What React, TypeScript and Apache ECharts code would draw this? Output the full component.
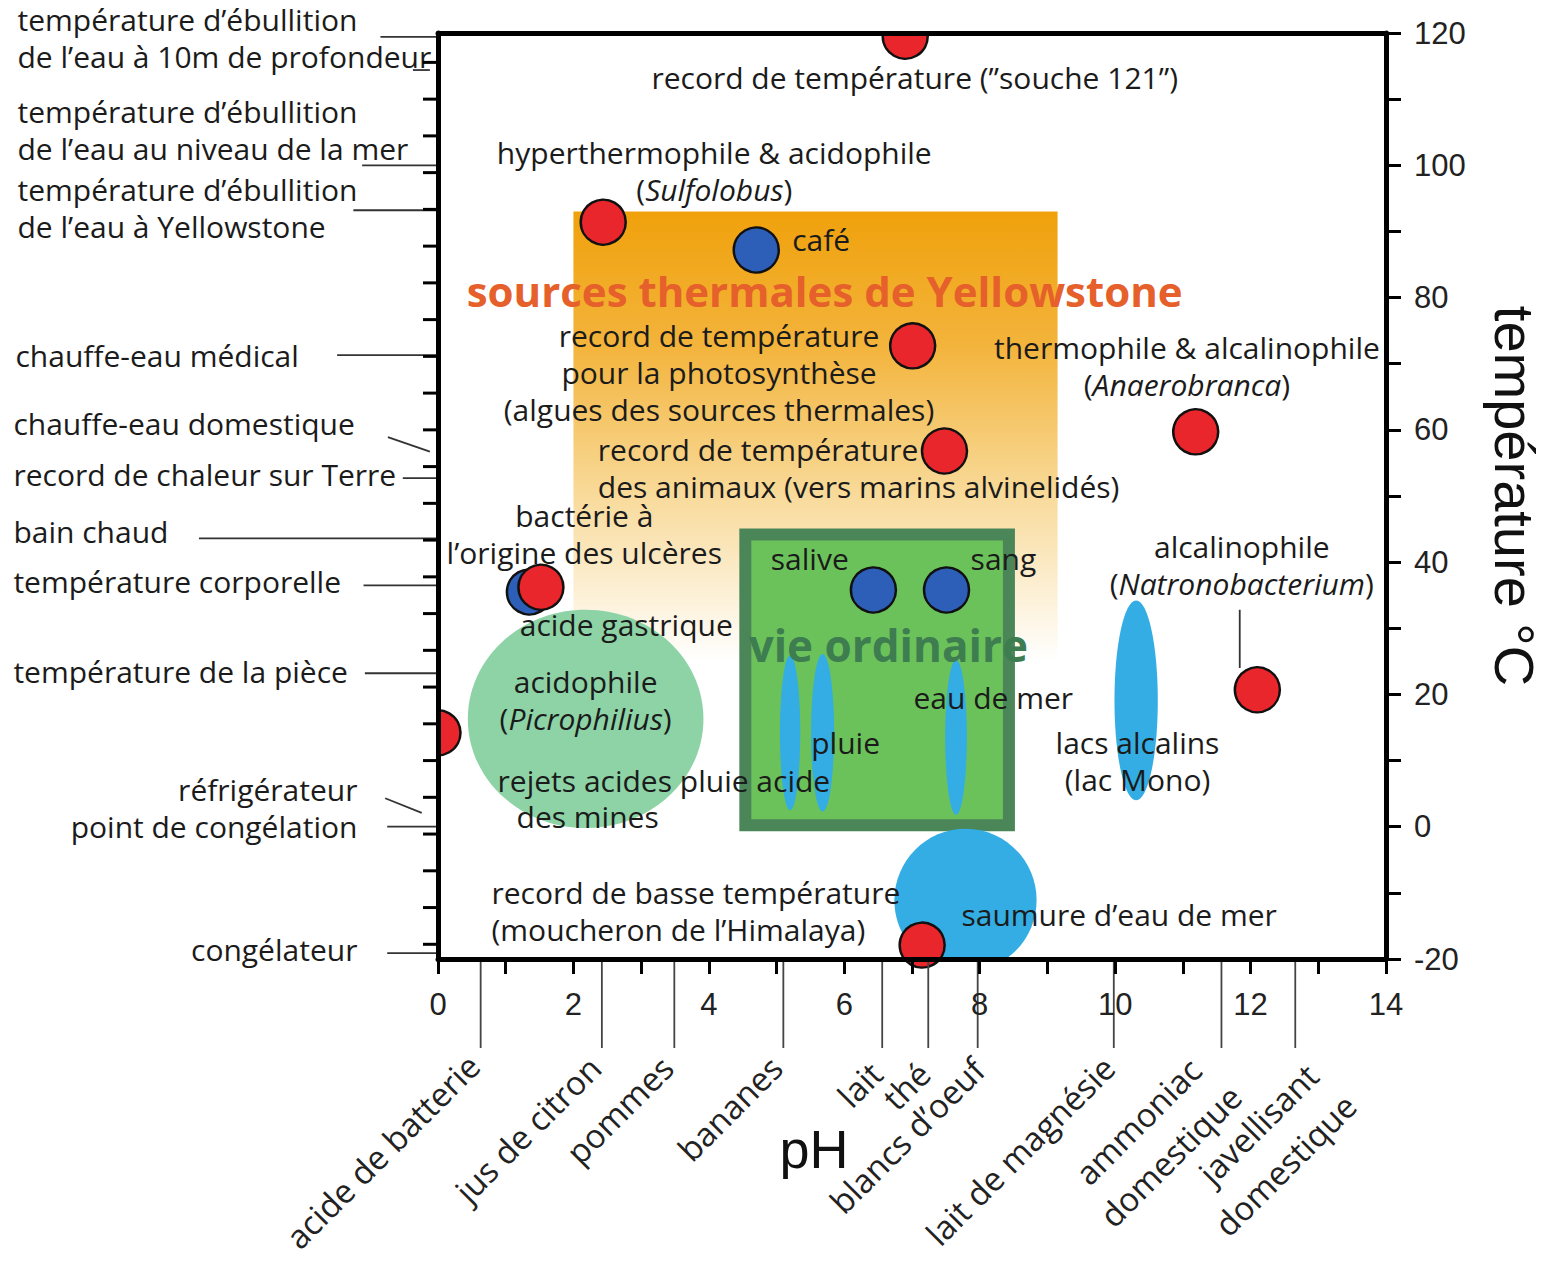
import { useEffect, useRef } from "react";
import * as echarts from "echarts";

const TEXT_FONT = "'Open Sans', 'DejaVu Sans', sans-serif";
const AXIS_FONT = "'Liberation Sans', Arial, sans-serif";
const TEXT_COLOR = "#1b1b1b";

// ---------- axes ----------
const phMin = 0;
const phMax = 14;
const tempMin = -20;
const tempMax = 120;
const xTickLabels = [0, 2, 4, 6, 8, 10, 12, 14];
const yTickLabels = [-20, 0, 20, 40, 60, 80, 100, 120];
const fahrenheitTicks = [0, 10, 20, 30, 40, 50, 60, 70, 80, 90, 100, 110, 120, 130, 140, 150, 160, 170, 180, 190, 200, 210, 220, 230, 240];

// ---------- everyday substances on the pH scale ----------
const substanceNames = [
  "acide de batterie",
  "jus de citron",
  "pommes",
  "bananes",
  "lait",
  "thé",
  "blancs d’oeuf",
  "lait de magnésie",
  "ammoniac\ndomestique",
  "javellisant\ndomestique",
];
const substancePH = [0.63, 2.42, 3.49, 5.1, 6.56, 7.24, 7.97, 9.98, 11.57, 12.66];

// ---------- reference temperatures (left margin) ----------
const leftTexts = [
  "température d’ébullition\nde l’eau à 10m de profondeur",
  "température d’ébullition\nde l’eau au niveau de la mer",
  "température d’ébullition\nde l’eau à Yellowstone",
  "chauffe-eau médical",
  "chauffe-eau domestique",
  "record de chaleur sur Terre",
  "bain chaud",
  "température corporelle",
  "température de la pièce",
  "réfrigérateur\npoint de congélation",
  "congélateur",
];
const leftTextPH = [-6.21, -6.21, -6.21, -6.24, -6.27, -6.27, -6.27, -6.27, -6.27, -1.19, -1.19];
const leftTextTemp = [119.2, 105.3, 93.6, 71.3, 60.9, 53.2, 44.6, 37.0, 23.5, 2.8, -18.6];
const leftTextAlign = ["left", "left", "left", "left", "left", "left", "left", "left", "left", "right", "right"];
// leader lines: [pH start, °C start, pH end, °C end]
const leaderLines = [
  [-0.85, 119.4, 0, 119.4],
  [-0.37, 114.4, -0.12, 114.4],
  [-1.12, 100, 0, 100],
  [-1.25, 93.2, 0, 93.2],
  [-1.49, 71.3, 0, 71.3],
  [-0.74, 58.9, -0.12, 56.7],
  [-0.52, 52.7, 0, 52.7],
  [-3.53, 43.6, 0, 43.6],
  [-1.1, 36.5, 0, 36.5],
  [-1.08, 23.2, 0, 23.2],
  [-0.78, 4.3, -0.24, 2.1],
  [-0.75, 0, 0, 0],
  [-0.75, -19.1, 0, -19.1],
  [11.84, 32.8, 11.84, 24.0],
];

// ---------- organisms (red) ----------
const redNames = [
  "souche 121",
  "Sulfolobus",
  "photosynthèse",
  "vers marins alvinelidés",
  "Anaerobranca",
  "bactérie des ulcères",
  "Natronobacterium",
  "Picrophilius",
  "moucheron de l’Himalaya",
];
const redPH = [6.9, 2.44, 7.01, 7.48, 11.19, 1.52, 12.1, 0.0, 7.15];
const redTemp = [119.5, 91.4, 72.7, 56.8, 59.7, 36.2, 20.7, 14.2, -17.9];
const redAtFrame = [true, false, false, false, false, false, false, true, false];

// ---------- fluids (blue) ----------
const blueNames = ["café", "salive", "sang", "acide gastrique"];
const bluePH = [4.7, 6.43, 7.51, 1.35];
const blueTemp = [87.2, 35.8, 35.8, 35.5];

// ---------- zones ----------
const hotSpringZone = [2.0, 9.15, 25, 93]; // pH min, pH max, °C min, °C max
const ordinaryLifeZone = [4.45, 8.52, -0.7, 45.1];
const acidophileZone = [2.18, 16.3, 1.74, 16.5]; // centre pH, centre °C, half pH, half °C
const waterNames = ["pluie acide", "pluie", "eau de mer", "lacs alcalins", "saumure d’eau de mer"];
const waterPH = [5.2, 5.68, 7.65, 10.31, 7.79];
const waterTemp = [14.2, 14.2, 13.5, 19.1, -11.1];
const waterHalfPH = [0.15, 0.17, 0.16, 0.32, 1.05];
const waterHalfTemp = [11.7, 11.9, 11.7, 15.1, 10.8];

// ---------- annotations in the plot ----------
const noteTexts = [
  "record de température (”souche 121”)",
  "hyperthermophile & acidophile\n({i|Sulfolobus})",
  "café",
  "record de température\npour la photosynthèse\n(algues des sources thermales)",
  "thermophile & alcalinophile\n({i|Anaerobranca})",
  "record de température\ndes animaux (vers marins alvinelidés)",
  "bactérie à\nl’origine des ulcères",
  "salive",
  "sang",
  "alcalinophile\n({i|Natronobacterium})",
  "acide gastrique",
  "acidophile\n({i|Picrophilius})",
  "eau de mer",
  "pluie",
  "lacs alcalins\n(lac Mono)",
  "rejets acides pluie acide",
  "des mines",
  "record de basse température\n(moucheron de l’Himalaya)",
  "saumure d’eau de mer",
];
const notePH = [7.04, 4.08, 5.23, 4.15, 11.06, 2.36, 2.16, 5.49, 8.35, 11.87, 2.78, 2.18, 8.2, 6.02, 10.33, 0.88, 2.21, 0.79, 7.73];
const noteTemp = [113.2, 99.1, 88.8, 68.7, 69.7, 54.3, 44.3, 40.5, 40.5, 39.6, 30.5, 19.2, 19.5, 12.8, 10.0, 7.06, 1.47, -12.8, -13.2];
const noteAlign = ["center", "center", "left", "center", "center", "left", "center", "center", "center", "center", "center", "center", "center", "center", "center", "left", "center", "left", "left"];

const titleTexts = ["sources thermales de Yellowstone", "vie ordinaire"];
const titlePH = [5.71, 6.65];
const titleTemp = [81.0, 27.5];

// ---------- layout constants (pixels) ----------
const SUB_LEADER_LEN = 89;
const substanceLabelOffsets = [
  [[-7, 12]],
  [[-7, 14]],
  [[-7, 14]],
  [[-7, 14]],
  [[-6, 20]],
  [[-4, 20]],
  [[1, 16]],
  [[-5, 14]],
  [[-26, 16], [14, 43]],
  [[17, 22], [55, 52]],
];

function textStyle(text: string, align: string, size = 30) {
  return {
    text,
    align,
    verticalAlign: "middle",
    fill: TEXT_COLOR,
    fontFamily: TEXT_FONT,
    fontSize: size,
    lineHeight: 37,
    rich: {
      i: { fontStyle: "italic", fontFamily: TEXT_FONT, fontSize: size, lineHeight: 37, fill: TEXT_COLOR },
    },
  };
}

function buildOption(): any {
  return {
    animation: false,
    backgroundColor: "#ffffff",
    grid: { left: 438, right: 161, top: 33, bottom: 303, show: false },
    xAxis: [
      {
        type: "value",
        min: phMin,
        max: phMax,
        interval: 1,
        position: "bottom",
        z: 10,
        axisLine: { show: true, onZero: false, lineStyle: { color: "#000", width: 5 } },
        axisTick: { show: true, length: 15, lineStyle: { color: "#000", width: 3 } },
        axisLabel: {
          formatter: (v: number) => (xTickLabels.includes(v) ? String(v) : ""),
          fontSize: 31,
          fontFamily: AXIS_FONT,
          color: "#222",
          margin: 30,
        },
        splitLine: { show: false },
        name: "pH",
        nameLocation: "middle",
        nameGap: 163,
        nameTextStyle: { fontSize: 54, fontFamily: AXIS_FONT, color: "#111", padding: [0, 196, 0, 0] },
      },
      {
        type: "value",
        min: phMin,
        max: phMax,
        position: "top",
        z: 10,
        axisLine: { show: true, onZero: false, lineStyle: { color: "#000", width: 5 } },
        axisTick: { show: false },
        axisLabel: { show: false },
        splitLine: { show: false },
      },
    ],
    yAxis: [
      {
        type: "value",
        min: tempMin,
        max: tempMax,
        interval: 10,
        position: "right",
        z: 10,
        axisLine: { show: true, onZero: false, lineStyle: { color: "#000", width: 5 } },
        axisTick: { show: true, length: 15, lineStyle: { color: "#000", width: 3 } },
        axisLabel: {
          formatter: (v: number) => (yTickLabels.includes(v) ? String(v) : ""),
          fontSize: 31,
          fontFamily: AXIS_FONT,
          color: "#222",
          margin: 28,
        },
        splitLine: { show: false },
        name: "température °C",
        nameLocation: "middle",
        nameRotate: -90,
        nameGap: 100,
        nameTextStyle: { fontSize: 56, fontFamily: AXIS_FONT, color: "#111" },
      },
      {
        type: "value",
        min: tempMin,
        max: tempMax,
        position: "left",
        z: 10,
        axisLine: { show: true, onZero: false, lineStyle: { color: "#000", width: 5 } },
        axisTick: { show: false },
        axisLabel: { show: false },
        splitLine: { show: false },
      },
    ],
    series: [
      // hot springs gradient
      {
        type: "custom",
        name: "sources thermales de Yellowstone",
        clip: true,
        z: 1,
        silent: true,
        data: [hotSpringZone],
        renderItem: (_p: any, api: any) => {
          const a = api.coord([api.value(0), api.value(3)]);
          const b = api.coord([api.value(1), api.value(2)]);
          return {
            type: "rect",
            shape: { x: a[0], y: a[1], width: b[0] - a[0], height: b[1] - a[1] },
            style: {
              fill: new echarts.graphic.LinearGradient(0, 0, 0, 1, [
                { offset: 0, color: "#f0a10c" },
                { offset: 0.3, color: "#f3b43c" },
                { offset: 0.62, color: "#f8d997" },
                { offset: 1, color: "#ffffff" },
              ]),
            },
          };
        },
      },
      // ordinary life box
      {
        type: "custom",
        name: "vie ordinaire",
        clip: true,
        z: 2,
        silent: true,
        data: [ordinaryLifeZone],
        renderItem: (_p: any, api: any) => {
          const a = api.coord([api.value(0), api.value(3)]);
          const b = api.coord([api.value(1), api.value(2)]);
          const w = 12;
          return {
            type: "rect",
            shape: { x: a[0] + w / 2, y: a[1] + w / 2, width: b[0] - a[0] - w, height: b[1] - a[1] - w },
            style: { fill: "#6cc25a", stroke: "#4b8658", lineWidth: w },
          };
        },
      },
      // acidophile zone
      {
        type: "custom",
        name: "acidophile",
        clip: true,
        z: 3,
        silent: true,
        data: [acidophileZone],
        renderItem: (_p: any, api: any) => {
          const c = api.coord([api.value(0), api.value(1)]);
          const e = api.coord([api.value(0) + api.value(2), api.value(1) + api.value(3)]);
          return {
            type: "ellipse",
            shape: { cx: c[0], cy: c[1], rx: e[0] - c[0], ry: c[1] - e[1] },
            style: { fill: "#8dd3a6" },
          };
        },
      },
      // water bodies
      {
        type: "custom",
        name: "eaux",
        clip: true,
        z: 4,
        silent: true,
        data: waterPH.map((p, i) => ({ name: waterNames[i], value: [p, waterTemp[i], waterHalfPH[i], waterHalfTemp[i]] })),
        renderItem: (_p: any, api: any) => {
          const c = api.coord([api.value(0), api.value(1)]);
          const e = api.coord([api.value(0) + api.value(2), api.value(1) + api.value(3)]);
          return {
            type: "ellipse",
            shape: { cx: c[0], cy: c[1], rx: e[0] - c[0], ry: c[1] - e[1] },
            style: { fill: "#33ade4" },
          };
        },
      },
      // blue fluids
      {
        type: "scatter",
        name: "fluides",
        z: 5,
        silent: true,
        symbol: "circle",
        symbolSize: 45,
        itemStyle: { color: "#2d5fb8", borderColor: "#111", borderWidth: 2.5, opacity: 1 },
        data: bluePH.map((p, i) => ({ name: blueNames[i], value: [p, blueTemp[i]] })),
      },
      // red organisms
      {
        type: "scatter",
        name: "organismes",
        z: 6,
        silent: true,
        symbol: "circle",
        symbolSize: 45,
        itemStyle: { color: "#e8262b", borderColor: "#111", borderWidth: 2.5, opacity: 1 },
        data: redPH
          .map((p, i) => ({ name: redNames[i], value: [p, redTemp[i]] }))
          .filter((_d, i) => !redAtFrame[i]),
      },
      // red organisms touching the frame (clipped)
      {
        type: "custom",
        name: "organismes (bord)",
        clip: true,
        z: 6,
        silent: true,
        data: redPH
          .map((p, i) => ({ name: redNames[i], value: [p, redTemp[i]] }))
          .filter((_d, i) => redAtFrame[i]),
        renderItem: (_p: any, api: any) => {
          const c = api.coord([api.value(0), api.value(1)]);
          return {
            type: "circle",
            shape: { cx: c[0], cy: c[1], r: 22.5 },
            style: { fill: "#e8262b", stroke: "#111", lineWidth: 2.5 },
          };
        },
      },
      // leader lines
      {
        type: "custom",
        name: "repères",
        clip: false,
        z: 7,
        silent: true,
        data: leaderLines,
        renderItem: (_p: any, api: any) => {
          const a = api.coord([api.value(0), api.value(1)]);
          const b = api.coord([api.value(2), api.value(3)]);
          return {
            type: "line",
            shape: { x1: a[0], y1: a[1], x2: b[0], y2: b[1] },
            style: { stroke: "#333", lineWidth: 1.8 },
          };
        },
      },
      // left Fahrenheit ticks
      {
        type: "custom",
        name: "°F",
        clip: false,
        z: 10,
        silent: true,
        data: fahrenheitTicks.map((f) => [phMin, ((f - 32) * 5) / 9]).filter((d) => d[1] <= tempMax),
        renderItem: (_p: any, api: any) => {
          const p = api.coord([api.value(0), api.value(1)]);
          return {
            type: "line",
            shape: { x1: p[0] - 15, y1: p[1], x2: p[0], y2: p[1] },
            style: { stroke: "#000", lineWidth: 3 },
          };
        },
      },
      // substances below the pH axis
      {
        type: "custom",
        name: "substances",
        clip: false,
        z: 7,
        silent: true,
        data: substancePH.map((p, i) => ({ name: substanceNames[i], value: [p, tempMin] })),
        renderItem: (params: any, api: any) => {
          const i = params.dataIndex;
          const p = api.coord([api.value(0), api.value(1)]);
          const footY = p[1] + SUB_LEADER_LEN;
          const children: any[] = [
            {
              type: "line",
              shape: { x1: p[0], y1: p[1], x2: p[0], y2: footY },
              style: { stroke: "#444", lineWidth: 1.8 },
            },
          ];
          substanceNames[i].split("\n").forEach((line, k) => {
            const off = substanceLabelOffsets[i][k];
            children.push({
              type: "text",
              x: p[0] + off[0],
              y: footY + off[1],
              rotation: Math.PI / 4,
              style: {
                text: line,
                align: "right",
                verticalAlign: "middle",
                fill: "#222",
                fontFamily: TEXT_FONT,
                fontSize: 33,
              },
            });
          });
          return { type: "group", children };
        },
      },
      // left reference texts
      {
        type: "custom",
        name: "températures de référence",
        clip: false,
        z: 8,
        silent: true,
        data: leftTextPH.map((p, i) => ({ name: leftTexts[i], value: [p, leftTextTemp[i]] })),
        renderItem: (params: any, api: any) => {
          const i = params.dataIndex;
          const p = api.coord([api.value(0), api.value(1)]);
          return { type: "text", x: p[0], y: p[1], style: textStyle(leftTexts[i], leftTextAlign[i], 30) };
        },
      },
      // in-plot annotations
      {
        type: "custom",
        name: "annotations",
        clip: false,
        z: 8,
        silent: true,
        data: notePH.map((p, i) => ({ name: noteTexts[i], value: [p, noteTemp[i]] })),
        renderItem: (params: any, api: any) => {
          const i = params.dataIndex;
          const p = api.coord([api.value(0), api.value(1)]);
          return { type: "text", x: p[0], y: p[1], style: textStyle(noteTexts[i], noteAlign[i], 30) };
        },
      },
      // zone titles
      {
        type: "custom",
        name: "titres",
        clip: false,
        z: 8,
        silent: true,
        data: titlePH.map((p, i) => ({ name: titleTexts[i], value: [p, titleTemp[i]] })),
        renderItem: (params: any, api: any) => {
          const i = params.dataIndex;
          const p = api.coord([api.value(0), api.value(1)]);
          return {
            type: "text",
            x: p[0],
            y: p[1],
            style: {
              text: titleTexts[i],
              align: "center",
              verticalAlign: "middle",
              fill: i === 0 ? "#e5602a" : "#3d7d50",
              fontFamily: TEXT_FONT,
              fontWeight: "bold",
              fontSize: i === 0 ? 42 : 44,
            },
          };
        },
      },
    ],
  };
}

export default function App() {
  const ref = useRef<HTMLDivElement>(null);
  useEffect(() => {
    if (!ref.current) return;
    const chart = echarts.init(ref.current, null, { renderer: "svg" });
    chart.setOption(buildOption());
    return () => chart.dispose();
  }, []);
  return (
    <div
      ref={ref}
      style={{ position: "absolute", left: 0, top: 0, width: 1550, height: 1262, background: "#fff" }}
    />
  );
}
